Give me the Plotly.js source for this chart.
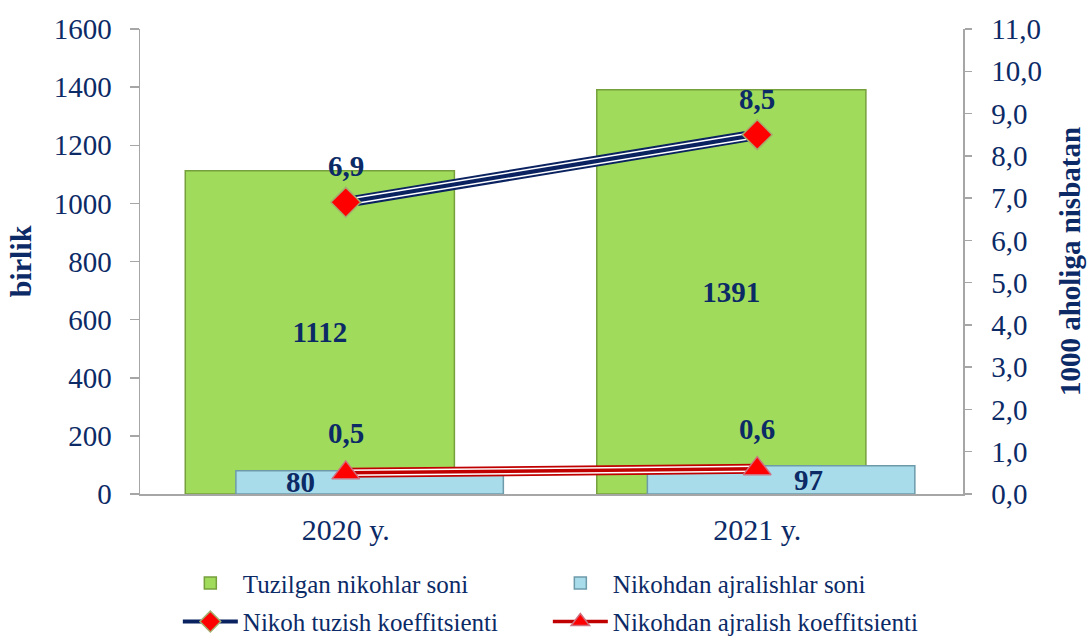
<!DOCTYPE html>
<html>
<head>
<meta charset="utf-8">
<script src="https://cdn.plot.ly/plotly-3.0.1.min.js"></script>
<style>html,body{margin:0;padding:0;background:#fff;}#chart{width:1091px;height:643px;}</style>
</head>
<body>
<div id="chart"></div>
<script>
// ---- data ----
const years = ['2020 y.', '2021 y.'];
const marriages = [1112, 1391];          // Tuzilgan nikohlar soni (birlik)
const divorces = [80, 97];               // Nikohdan ajralishlar soni (birlik)
const marriageRate = [6.9, 8.5];         // Nikoh tuzish koeffitsienti (1000 aholiga)
const divorceRate = [0.5, 0.6];          // Nikohdan ajralish koeffitsienti (1000 aholiga)
const seriesNames = ['Tuzilgan nikohlar soni', 'Nikohdan ajralishlar soni',
                     'Nikoh tuzish koeffitsienti', 'Nikohdan ajralish koeffitsienti'];

// ---- style ----
const FONT = 'Liberation Serif';
const NAVY = '#0B2A66';
const LINE_NAVY = '#0A2260';
const LINE_RED = '#C00000';
const fmt1 = v => v.toFixed(1).replace('.', ',');

const traces = [
  {
    type: 'bar', name: seriesNames[0], x: years, y: marriages,
    width: 0.654, offset: -0.39,
    marker: { color: '#A0DB5C', line: { color: '#76A03C', width: 1.5 } },
    texttemplate: '%{y}', textposition: 'inside', insidetextanchor: 'middle',
    textangle: 0, constraintext: 'none',
    textfont: { family: FONT, size: 29, color: NAVY, weight: 'bold' },
    legend: 'legend', hoverinfo: 'skip'
  },
  {
    type: 'bar', name: seriesNames[1], x: years, y: divorces,
    width: 0.65, offset: -0.267,
    marker: { color: '#A9DCEA', line: { color: '#6D9BAA', width: 1.5 } },
    textposition: 'none',
    legend: 'legend', hoverinfo: 'skip'
  },
  // marriage rate: compound line (outer navy, white gap, inner navy)
  { type: 'scatter', mode: 'lines', x: years, y: marriageRate, yaxis: 'y2',
    line: { color: LINE_NAVY, width: 11 }, showlegend: false, hoverinfo: 'skip' },
  { type: 'scatter', mode: 'lines', x: years, y: marriageRate, yaxis: 'y2',
    line: { color: '#FFFFFF', width: 7 }, showlegend: false, hoverinfo: 'skip' },
  { type: 'scatter', mode: 'lines+markers', name: seriesNames[2], x: years, y: marriageRate, yaxis: 'y2',
    line: { color: LINE_NAVY, width: 4 },
    marker: { symbol: 'diamond', size: 23, color: '#FF0000', line: { color: '#A3AD6E', width: 1.5 } },
    legend: 'legend2', hoverinfo: 'skip' },
  // divorce rate: compound red line
  { type: 'scatter', mode: 'lines', x: years, y: divorceRate, yaxis: 'y2',
    line: { color: LINE_RED, width: 10 }, showlegend: false, hoverinfo: 'skip' },
  { type: 'scatter', mode: 'lines', x: years, y: divorceRate, yaxis: 'y2',
    line: { color: '#FFFFFF', width: 6.5 }, showlegend: false, hoverinfo: 'skip' },
  { type: 'scatter', mode: 'lines+markers', name: seriesNames[3], x: years, y: divorceRate, yaxis: 'y2',
    line: { color: LINE_RED, width: 3.5 },
    marker: { symbol: 'triangle-up', size: 24, color: '#FF0000', line: { color: '#D0707F', width: 1.5 } },
    legend: 'legend2', hoverinfo: 'skip' }
];

const labelFont = { family: FONT, size: 29, color: NAVY, weight: 'bold' };
const divorceShift = [-45, 51];
const annotations = [];
divorces.forEach((v, i) => annotations.push({
  x: years[i], y: v / 2, xref: 'x', yref: 'y', text: String(v), showarrow: false,
  xshift: divorceShift[i], font: labelFont
}));
marriageRate.forEach((v, i) => annotations.push({
  x: years[i], y: v, xref: 'x', yref: 'y2', text: fmt1(v), showarrow: false,
  yshift: 36, font: labelFont
}));
divorceRate.forEach((v, i) => annotations.push({
  x: years[i], y: v, xref: 'x', yref: 'y2', text: fmt1(v), showarrow: false,
  yshift: 40, font: labelFont
}));

const axisLine = '#A6A6A6';
const legendFont = { family: FONT, size: 25, color: NAVY };
const layout = {
  width: 1091, height: 643,
  margin: { l: 140, r: 128, t: 29, b: 149, pad: 0 },
  paper_bgcolor: '#FFFFFF', plot_bgcolor: 'rgba(0,0,0,0)',
  separators: ', ',
  barmode: 'overlay',
  font: { family: FONT, color: NAVY },
  xaxis: {
    type: 'category', range: [-0.5, 1.5],
    showline: true, linecolor: axisLine, linewidth: 1.5,
    ticks: '', showgrid: false, zeroline: false,
    tickfont: { family: FONT, size: 30, color: NAVY },
    ticklabelstandoff: 8
  },
  yaxis: {
    range: [0, 1600], dtick: 200, tick0: 0,
    showline: true, linecolor: axisLine, linewidth: 1.5,
    ticks: 'outside', ticklen: 9, tickcolor: axisLine, tickwidth: 1.5,
    showgrid: false, zeroline: false,
    tickfont: { family: FONT, size: 29, color: NAVY },
    ticklabelstandoff: 12,
    title: { text: 'birlik', font: { family: FONT, size: 30, color: NAVY, weight: 'bold' }, standoff: 13 }
  },
  yaxis2: {
    overlaying: 'y', side: 'right',
    range: [0, 11], dtick: 1, tick0: 0, tickformat: '.1f',
    showline: true, linecolor: axisLine, linewidth: 1.5,
    ticks: 'outside', ticklen: 7, tickcolor: axisLine, tickwidth: 1.5,
    showgrid: false, zeroline: false,
    tickfont: { family: FONT, size: 29, color: NAVY },
    ticklabelstandoff: 14,
    title: { text: '1000 aholiga nisbatan', font: { family: FONT, size: 29, color: NAVY, weight: 'bold' }, standoff: 18 }
  },
  legend: {
    orientation: 'h', xref: 'container', yref: 'container',
    x: 0.163, y: 0.093, xanchor: 'left', yanchor: 'middle',
    entrywidth: 300, entrywidthmode: 'pixels', itemwidth: 55,
    font: legendFont, bgcolor: 'rgba(0,0,0,0)'
  },
  legend2: {
    orientation: 'h', xref: 'container', yref: 'container',
    x: 0.163, y: 0.033, xanchor: 'left', yanchor: 'middle',
    entrywidth: 300, entrywidthmode: 'pixels', itemwidth: 55,
    font: legendFont, bgcolor: 'rgba(0,0,0,0)'
  },
  annotations: annotations,
  showlegend: true
};

Plotly.newPlot('chart', traces, layout, { displayModeBar: false, staticPlot: true });
</script>
</body>
</html>
